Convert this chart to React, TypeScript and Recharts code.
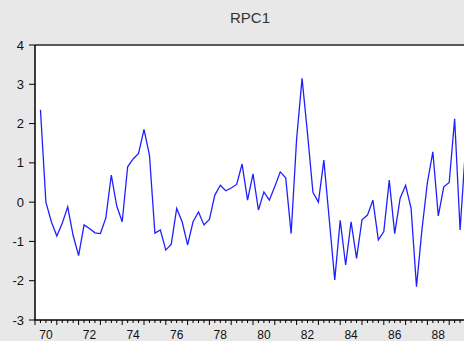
import { LineChart, Line, XAxis, YAxis, CartesianGrid, ReferenceLine } from 'recharts'

// quarterly series, first observation 1970Q2
const firstYear = 1970
const firstQuarter = 2
const rpc1 = [
  2.35, 0.0, -0.5, -0.86, -0.54, -0.12, -0.85, -1.36, -0.58, -0.67,
  -0.78, -0.8, -0.4, 0.69, -0.1, -0.5, 0.9, 1.1, 1.24, 1.85,
  1.2, -0.79, -0.71, -1.22, -1.07, -0.16, -0.5, -1.09, -0.5, -0.25,
  -0.58, -0.44, 0.18, 0.43, 0.29, 0.36, 0.45, 0.97, 0.05, 0.72,
  -0.2, 0.26, 0.05, 0.4, 0.77, 0.62, -0.8, 1.6, 3.15, 1.75,
  0.25, 0.0, 1.07, -0.45, -1.98, -0.46, -1.6, -0.5, -1.43, -0.45,
  -0.33, 0.05, -0.96, -0.75, 0.56, -0.8, 0.1, 0.43, -0.15, -2.15,
  -0.7, 0.5, 1.28, -0.35, 0.39, 0.5, 2.12, -0.71, 1.4,
]
const yTicks = [-3, -2, -1, 0, 1, 2, 3, 4]
const xDomain = [1970, 1990]
const quarterTicks = Array.from({ length: (xDomain[1] - xDomain[0]) * 4 + 1 }, (_, k) => xDomain[0] + k / 4)

const data = rpc1.map((v, i) => ({ t: firstYear + (firstQuarter - 1 + i) / 4, rpc1: v }))

const font = '"Liberation Sans", Arial, sans-serif'

function QuarterTick(props: any) {
  const { x, y, payload } = props
  const t: number = payload.value
  const year = Math.floor(t + 1e-6)
  const isYear = Math.abs(t - year) < 1e-6
  const isLabel = Math.abs(t - year - 0.5) < 1e-6 && year % 2 === 0
  return (
    <g>
      <line x1={x} y1={y} x2={x} y2={y + (isYear ? 5 : 3)} stroke="#000" strokeWidth={1} />
      {isLabel && (
        <text x={x} y={y + 18.5} textAnchor="middle" fontSize={12} fontFamily={font} fill="#111">
          {String(year).slice(2)}
        </text>
      )}
    </g>
  )
}

export default function App() {
  return (
    <div style={{ position: 'absolute', left: 0, top: 0, width: 464, height: 341, overflow: 'hidden', background: '#e8e8e8' }}>
      <div style={{ position: 'absolute', left: 0, top: 9, width: 500, textAlign: 'center', fontFamily: font, fontSize: 15, color: '#333' }}>
        RPC1
      </div>
      <LineChart width={471} height={341} data={data} margin={{ top: 45, right: 0, bottom: 0, left: 0 }}>
        <CartesianGrid fill="#ffffff" horizontal={false} vertical={false} />
        <XAxis
          dataKey="t"
          type="number"
          domain={xDomain}
          ticks={quarterTicks}
          interval={0}
          height={21}
          tickSize={0}
          tickMargin={0}
          tickLine={false}
          axisLine={{ stroke: '#000', strokeWidth: 1.5 }}
          tick={<QuarterTick />}
          allowDataOverflow
        />
        <YAxis
          type="number"
          domain={[-3, 4]}
          ticks={yTicks}
          interval={0}
          width={35}
          tickSize={6}
          tickMargin={5}
          tickLine={{ stroke: '#000' }}
          axisLine={{ stroke: '#000', strokeWidth: 1.5 }}
          tick={{ fill: '#111', fontSize: 13, fontFamily: font }}
        />
        <ReferenceLine y={4} stroke="#5a5a5a" strokeWidth={2} />
        <Line
          type="linear"
          dataKey="rpc1"
          stroke="#2020ff"
          strokeWidth={1.3}
          dot={false}
          isAnimationActive={false}
        />
      </LineChart>
    </div>
  )
}
